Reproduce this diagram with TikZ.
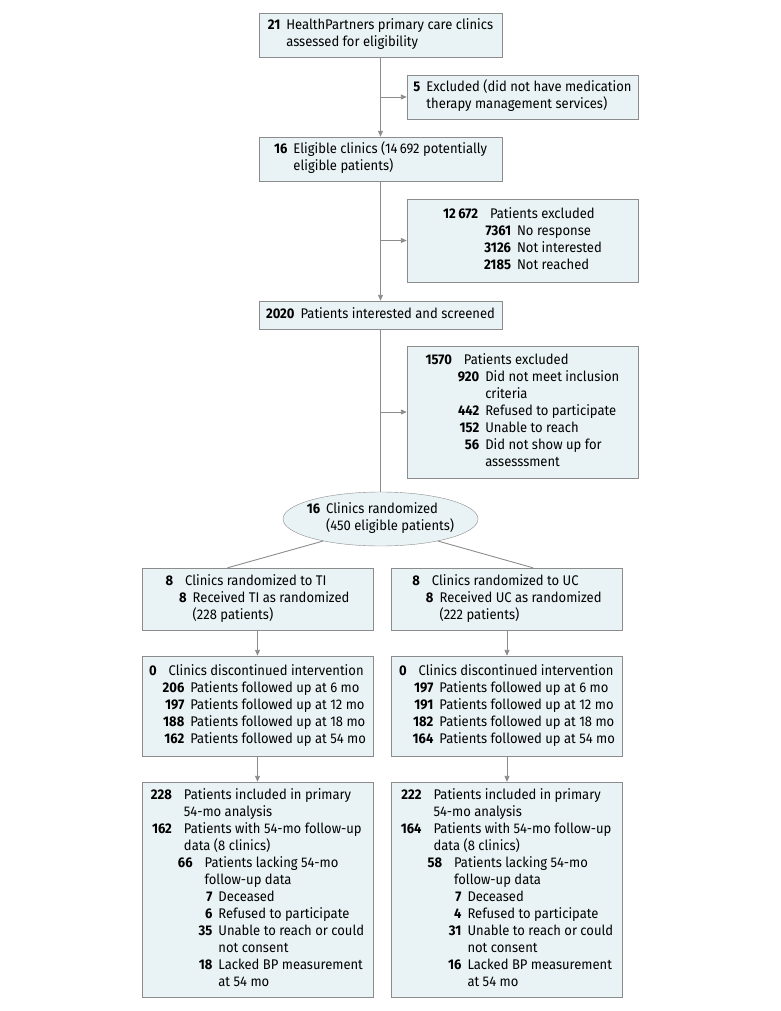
\documentclass[tikz,border=0pt]{standalone}
\usepackage{fontspec}
\setmainfont{Fira Sans}[FakeStretch=0.93]
\usetikzlibrary{arrows.meta,shapes.geometric}

\definecolor{boxfill}{RGB}{233,242,244}
\definecolor{boxline}{RGB}{140,140,140}

\tikzset{
    stage/.style ={draw=boxline, fill=boxfill, rectangle, inner sep=0pt,
                   font=\fontsize{14}{17}\selectfont},
    flowline/.style ={draw=boxline, line width=0.9pt},
    flowarrow/.style ={flowline, -{Triangle[length=6pt,width=5pt]}}}

\newcommand{\nb}[1]{\textbf{#1}}

\begin{document}
\begin{tikzpicture}[x=1pt,y=-1pt]
   \useasboundingbox (0,0) rectangle (780,1011);

   % main column
   \node[stage, minimum width=243pt, minimum height=44pt] (assessed) at (380.5,35)
      {\begin{tabular}{@{}r@{\hspace{6pt}}l@{}}
        \nb{21} & HealthPartners primary care clinics\\
                & assessed for eligibility
       \end{tabular}};
   \node[stage, minimum width=231pt, minimum height=44pt] (exclA) at (522.5,97)
      {\begin{tabular}{@{}r@{\hspace{6pt}}l@{}}
        \nb{5} & Excluded (did not have medication\\
               & therapy management services)
       \end{tabular}};
   \node[stage, minimum width=243pt, minimum height=44pt] (eligible) at (380.5,159)
      {\begin{tabular}{@{}r@{\hspace{6pt}}l@{}}
        \nb{16} & Eligible clinics (14\,692 potentially\\
                & eligible patients)
       \end{tabular}};
   \node[stage, minimum width=231pt, minimum height=83pt] (exclB) at (522.5,240.5)
      {\begin{tabular}{@{}r@{\hspace{6pt}}r@{\hspace{6pt}}l@{}}
        \nb{12\,672} & \multicolumn{2}{l@{}}{Patients excluded}\\
                     & \nb{7361} & No response\\
                     & \nb{3126} & Not interested\\
                     & \nb{2185} & Not reached
       \end{tabular}};
   \node[stage, minimum width=243pt, minimum height=28pt] (screened) at (380.5,315)
      {\begin{tabular}{@{}r@{\hspace{6pt}}l@{}}
        \nb{2020} & Patients interested and screened
       \end{tabular}};
   \node[stage, minimum width=231pt, minimum height=132pt] (exclC) at (522.5,412)
      {\begin{tabular}{@{}r@{\hspace{6pt}}r@{\hspace{6pt}}l@{}}
        \nb{1570} & \multicolumn{2}{l@{}}{Patients excluded}\\
                  & \nb{920} & Did not meet inclusion\\
                  &          & criteria\\
                  & \nb{442} & Refused to participate\\
                  & \nb{152} & Unable to reach\\
                  & \nb{56}  & Did not show up for\\
                  &          & assesssment
       \end{tabular}};
   \node[stage, ellipse, inner sep=-5pt, minimum width=195pt, minimum height=54pt] (randomized) at (380.5,519)
      {\begin{tabular}{@{}r@{\hspace{6pt}}l@{}}
        \nb{16} & Clinics randomized\\
                & (450 eligible patients)
       \end{tabular}};

   % TI arm
   \node[stage, minimum width=231pt, minimum height=62pt] (allocTI) at (257.5,599)
      {\begin{tabular}{@{}r@{\hspace{6pt}}r@{\hspace{6pt}}l@{}}
        \nb{8} & \multicolumn{2}{l@{}}{Clinics randomized to TI}\\
               & \nb{8} & Received TI as randomized\\
               &        & (228 patients)
       \end{tabular}};
   \node[stage, minimum width=231pt, minimum height=100pt] (followTI) at (257.5,706)
      {\begin{tabular}{@{}r@{\hspace{6pt}}r@{\hspace{6pt}}l@{}}
        \nb{0} & \multicolumn{2}{l@{}}{Clinics discontinued intervention}\\
               & \nb{206} & Patients followed up at 6 mo\\
               & \nb{197} & Patients followed up at 12 mo\\
               & \nb{188} & Patients followed up at 18 mo\\
               & \nb{162} & Patients followed up at 54 mo
       \end{tabular}};
   \node[stage, minimum width=231pt, minimum height=215pt] (analysisTI) at (257.5,889.5)
      {\begin{tabular}{@{}r@{\hspace{6pt}}r@{\hspace{6pt}}r@{\hspace{6pt}}l@{}}
        \nb{228} & \multicolumn{3}{l@{}}{Patients included in primary}\\
                 & \multicolumn{3}{l@{}}{54-mo analysis}\\
        \nb{162} & \multicolumn{3}{l@{}}{Patients with 54-mo follow-up}\\
                 & \multicolumn{3}{l@{}}{data (8 clinics)}\\
                 & \nb{66} & \multicolumn{2}{l@{}}{Patients lacking 54-mo}\\
                 &         & \multicolumn{2}{l@{}}{follow-up data}\\
                 &         & \nb{7}  & Deceased\\
                 &         & \nb{6}  & Refused to participate\\
                 &         & \nb{35} & Unable to reach or could\\
                 &         &         & not consent\\
                 &         & \nb{18} & Lacked BP measurement\\
                 &         &         & at 54 mo
       \end{tabular}};

   % UC arm
   \node[stage, minimum width=231pt, minimum height=62pt] (allocUC) at (507,599)
      {\begin{tabular}{@{}r@{\hspace{6pt}}r@{\hspace{6pt}}l@{}}
        \nb{8} & \multicolumn{2}{l@{}}{Clinics randomized to UC}\\
               & \nb{8} & Received UC as randomized\\
               &        & (222 patients)
       \end{tabular}};
   \node[stage, minimum width=231pt, minimum height=100pt] (followUC) at (507,706)
      {\begin{tabular}{@{}r@{\hspace{6pt}}r@{\hspace{6pt}}l@{}}
        \nb{0} & \multicolumn{2}{l@{}}{Clinics discontinued intervention}\\
               & \nb{197} & Patients followed up at 6 mo\\
               & \nb{191} & Patients followed up at 12 mo\\
               & \nb{182} & Patients followed up at 18 mo\\
               & \nb{164} & Patients followed up at 54 mo
       \end{tabular}};
   \node[stage, minimum width=231pt, minimum height=215pt] (analysisUC) at (507,889.5)
      {\begin{tabular}{@{}r@{\hspace{6pt}}r@{\hspace{6pt}}r@{\hspace{6pt}}l@{}}
        \nb{222} & \multicolumn{3}{l@{}}{Patients included in primary}\\
                 & \multicolumn{3}{l@{}}{54-mo analysis}\\
        \nb{164} & \multicolumn{3}{l@{}}{Patients with 54-mo follow-up}\\
                 & \multicolumn{3}{l@{}}{data (8 clinics)}\\
                 & \nb{58} & \multicolumn{2}{l@{}}{Patients lacking 54-mo}\\
                 &         & \multicolumn{2}{l@{}}{follow-up data}\\
                 &         & \nb{7}  & Deceased\\
                 &         & \nb{4}  & Refused to participate\\
                 &         & \nb{31} & Unable to reach or could\\
                 &         &         & not consent\\
                 &         & \nb{16} & Lacked BP measurement\\
                 &         &         & at 54 mo
       \end{tabular}};

   % connectors
   \draw[flowarrow] (assessed) -- (eligible);
   \draw[flowarrow] (exclA.west -| assessed.south) -- (exclA.west);
   \draw[flowarrow] (eligible) -- (screened);
   \draw[flowarrow] (exclB.west -| eligible.south) -- (exclB.west);
   \draw[flowline] (screened) -- (randomized);
   \draw[flowarrow] (exclC.west -| screened.south) -- (exclC.west);
   \draw[flowline] (randomized.201) -- ([xshift=-30pt]allocTI.north);
   \draw[flowline] (randomized.339) -- ([xshift=26pt]allocUC.north);
   \draw[flowarrow] (allocTI) -- (followTI);
   \draw[flowarrow] (followTI) -- (analysisTI);
   \draw[flowarrow] (allocUC) -- (followUC);
   \draw[flowarrow] (followUC) -- (analysisUC);
\end{tikzpicture}
\end{document}
